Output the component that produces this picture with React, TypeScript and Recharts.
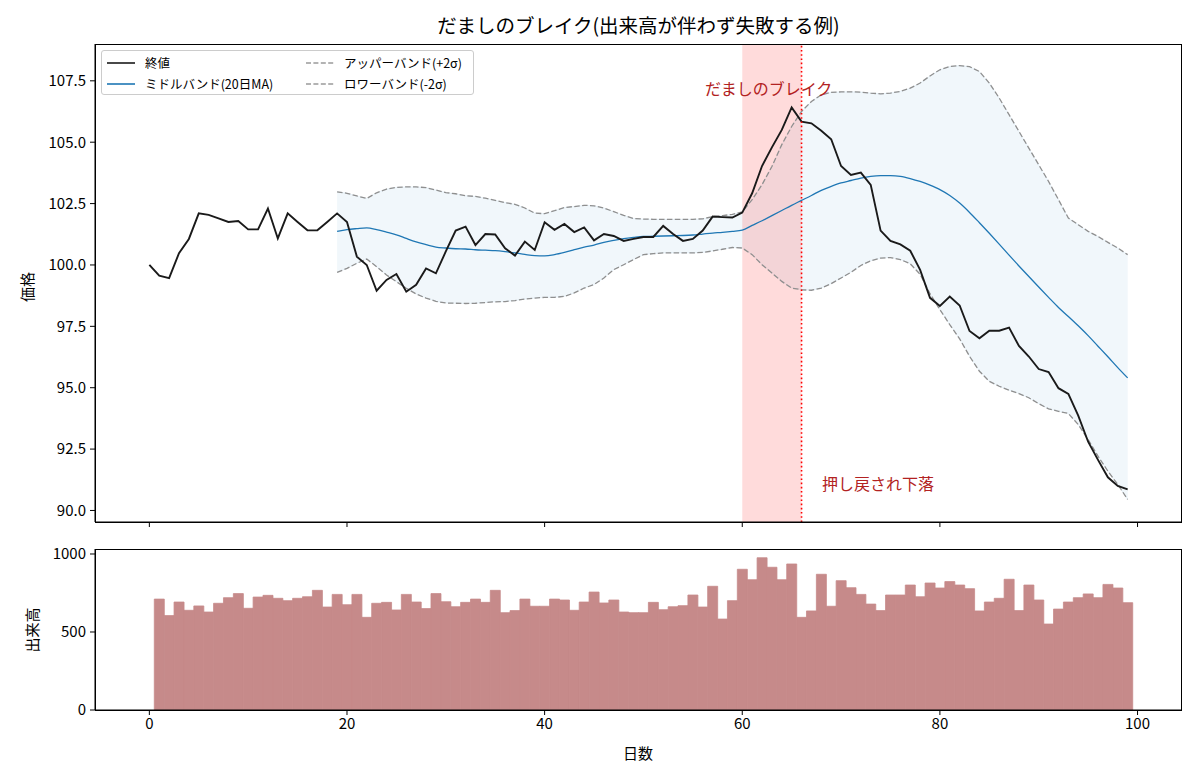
import React from "react";
import {
  ComposedChart,
  Line,
  Area,
  Bar,
  XAxis,
  YAxis,
  ReferenceArea,
  ReferenceLine,
} from "recharts";

// 終値 (日 0〜99)
const closePrices = [
  100.0, 99.56, 99.46, 100.48, 101.06, 102.1, 102.04, 101.9, 101.75, 101.79,
  101.45, 101.45, 102.3, 101.08, 102.1, 101.75, 101.41, 101.41, 101.75, 102.1,
  101.75, 100.34, 100.0, 98.95, 99.39, 99.63, 98.91, 99.19, 99.86, 99.66,
  100.55, 101.4, 101.56, 100.81, 101.26, 101.24, 100.68, 100.38, 100.95, 100.61,
  101.74, 101.43, 101.67, 101.34, 101.53, 101.0, 101.26, 101.18, 100.98, 101.06,
  101.14, 101.14, 101.59, 101.26, 100.98, 101.06, 101.4, 101.97, 101.95, 101.93,
  102.13, 102.92, 104.03, 104.79, 105.5, 106.42, 105.84, 105.77, 105.47, 105.12,
  104.03, 103.67, 103.76, 103.26, 101.4, 100.98, 100.84, 100.58, 99.8, 98.66,
  98.33, 98.71, 98.35, 97.31, 97.01, 97.32, 97.32, 97.45, 96.7, 96.27,
  95.76, 95.64, 94.98, 94.75, 93.86, 92.8, 92.06, 91.35, 91.0, 90.86,
];

// バンドは日 19 から
const BAND_START = 19;

const middleBand = [
  101.37, 101.44, 101.48, 101.51, 101.44, 101.34, 101.23, 101.08, 100.94, 100.83,
  100.73, 100.69, 100.66, 100.65, 100.62, 100.6, 100.58, 100.54, 100.49, 100.43,
  100.38, 100.37, 100.42, 100.51, 100.62, 100.73, 100.81, 100.92, 101.0, 101.07,
  101.12, 101.16, 101.17, 101.18, 101.19, 101.2, 101.22, 101.26, 101.3, 101.33,
  101.37, 101.42, 101.61, 101.8, 102.01, 102.22, 102.43, 102.63, 102.83, 103.04,
  103.2, 103.34, 103.44, 103.54, 103.61, 103.64, 103.64, 103.61, 103.52, 103.4,
  103.25, 103.07, 102.83, 102.52, 102.14, 101.72, 101.29, 100.85, 100.4, 99.96,
  99.53, 99.1, 98.68, 98.27, 97.9, 97.52, 97.12, 96.69, 96.26, 95.82,
  95.4,
];

const upperBand = [
  102.98, 102.92, 102.81, 102.71, 102.94, 103.09, 103.16, 103.18, 103.18, 103.15,
  103.05, 102.95, 102.9, 102.82, 102.79, 102.72, 102.63, 102.54, 102.47, 102.32,
  102.11, 102.09, 102.21, 102.34, 102.38, 102.43, 102.41, 102.32, 102.17, 102.02,
  101.89, 101.87, 101.86, 101.86, 101.86, 101.86, 101.86, 101.88, 101.97, 102.01,
  102.06, 102.16, 102.66, 103.27, 104.01, 104.9, 105.64, 106.25, 106.66, 106.93,
  107.03, 107.05, 107.05, 107.04, 107.0, 106.97, 107.0, 107.07, 107.2, 107.41,
  107.7, 107.95, 108.08, 108.12, 108.08, 107.88, 107.41, 106.8, 106.12, 105.44,
  104.76, 104.08, 103.4, 102.66, 101.91, 101.64, 101.37, 101.16, 100.92, 100.69,
  100.42,
];

const lowerBand = [
  99.7, 99.86, 100.07, 100.24, 99.93, 99.59, 99.32, 99.05, 98.82, 98.65,
  98.52, 98.45, 98.44, 98.43, 98.44, 98.47, 98.5, 98.51, 98.55, 98.61,
  98.65, 98.68, 98.68, 98.72, 98.86, 99.06, 99.2, 99.47, 99.81, 100.01,
  100.22, 100.42, 100.46, 100.49, 100.49, 100.49, 100.49, 100.51, 100.57, 100.64,
  100.71, 100.69, 100.42, 100.01, 99.67, 99.33, 99.06, 98.99, 98.97, 99.06,
  99.24, 99.47, 99.7, 99.98, 100.17, 100.28, 100.3, 100.22, 100.05, 99.62,
  98.83, 98.18, 97.57, 96.99, 96.28, 95.67, 95.26, 95.06, 94.9, 94.76,
  94.59, 94.35, 94.14, 94.04, 93.95, 93.5, 92.89, 92.21, 91.6, 91.06,
  90.45,
];

// 出来高は日 1 から
const VOLUME_START = 1;
const volumes = [
  711, 605, 692, 639, 667, 628, 684, 720, 746, 652,
  724, 735, 716, 701, 716, 726, 767, 660, 741, 675,
  741, 594, 684, 690, 641, 741, 692, 650, 746, 694,
  662, 690, 711, 690, 767, 624, 637, 711, 665, 665,
  711, 705, 639, 692, 756, 686, 705, 628, 624, 624,
  690, 643, 662, 669, 737, 660, 793, 583, 701, 902,
  835, 976, 915, 835, 936, 594, 635, 870, 665, 829,
  784, 741, 679, 637, 737, 737, 801, 726, 814, 782,
  823, 801, 778, 635, 692, 716, 838, 637, 801, 705,
  551, 647, 692, 720, 744, 720, 805, 782, 688,
];

const xTicks = [0, 20, 40, 60, 80, 100];
const priceTicks = [90, 92.5, 95, 97.5, 100, 102.5, 105, 107.5];
const volumeTicks = [0, 500, 1000];

// だましの区間
const fakeStart = 60;
const fakeEnd = 66;

const priceRows = closePrices.map((c, i) => {
  const j = i - BAND_START;
  const has = j >= 0;
  return {
    day: i,
    close: c,
    ma: has ? middleBand[j] : null,
    upper: has ? upperBand[j] : null,
    lower: has ? lowerBand[j] : null,
    band: has ? [lowerBand[j], upperBand[j]] : null,
  };
});

const volumeRows = volumes.map((v, k) => ({ day: k + VOLUME_START, vol: v }));

const FONT = "'Noto Sans CJK JP', 'Noto Sans', sans-serif";
const tickStyle = { fontSize: 15, fill: "#000" };
const axisStroke = { stroke: "#000" };
const VOL_COLOR = "#c68a8a";

const Frame = ({ left, top, width, height }: any) => (
  <div
    style={{
      position: "absolute",
      left,
      top,
      width,
      height,
      border: "1px solid #000",
      boxSizing: "border-box",
      pointerEvents: "none",
    }}
  />
);

const LegendSwatch = ({ color, dashed }: { color: string; dashed?: boolean }) => (
  <svg width={28} height={10} style={{ display: "block" }}>
    <line
      x1={0}
      y1={5}
      x2={28}
      y2={5}
      stroke={color}
      strokeWidth={dashed ? 1.3 : 1.6}
      strokeDasharray={dashed ? "5 2.4" : undefined}
    />
  </svg>
);

const legendItems = [
  { label: "終値", color: "#1a1a1a", dashed: false, left: 107, top: 55 },
  { label: "ミドルバンド(20日MA)", color: "#1f77b4", dashed: false, left: 107, top: 76 },
  { label: "アッパーバンド(+2σ)", color: "#9a9a9a", dashed: true, left: 306, top: 55 },
  { label: "ロワーバンド(-2σ)", color: "#9a9a9a", dashed: true, left: 306, top: 76 },
];

export default function App() {
  return (
    <div
      style={{
        position: "absolute",
        left: 0,
        top: 0,
        width: 1200,
        height: 780,
        background: "#fff",
        fontFamily: FONT,
        color: "#000",
      }}
    >
      {/* タイトル */}
      <div
        style={{
          position: "absolute",
          left: 95,
          width: 1087,
          top: 11,
          textAlign: "center",
          fontSize: 19.5,
          lineHeight: "28px",
        }}
      >
        だましのブレイク(出来高が伴わず失敗する例)
      </div>

      {/* 価格チャート */}
      <div style={{ position: "absolute", left: 0, top: 0 }}>
        <ComposedChart
          width={1200}
          height={540}
          data={priceRows}
          margin={{ top: 44, right: 18, bottom: 0, left: 0 }}
        >
          <XAxis
            dataKey="day"
            type="number"
            domain={[-5.5, 104.5]}
            ticks={xTicks}
            allowDataOverflow
            height={18}
            tickSize={5}
            tickFormatter={() => ""}
            axisLine={axisStroke}
            tickLine={axisStroke}
          />
          <YAxis
            type="number"
            domain={[89.53, 109.0]}
            ticks={priceTicks}
            allowDataOverflow
            width={95}
            tickSize={5}
            tickMargin={4}
            tick={tickStyle}
            tickFormatter={(v: number) => v.toFixed(1)}
            axisLine={axisStroke}
            tickLine={axisStroke}
          />
          <Area
            dataKey="band"
            stroke="#2a85c0"
            strokeOpacity={0.08}
            fill="#2a85c0"
            fillOpacity={0.065}
            isAnimationActive={false}
            connectNulls={false}
          />
          <ReferenceArea
            x1={fakeStart}
            x2={fakeEnd}
            fill="#ff0000"
            fillOpacity={0.14}
            stroke="none"
          />
          <Line
            dataKey="upper"
            stroke="#8f8f8f"
            strokeWidth={1.3}
            strokeDasharray="5.5 2.4"
            dot={false}
            isAnimationActive={false}
          />
          <Line
            dataKey="lower"
            stroke="#8f8f8f"
            strokeWidth={1.3}
            strokeDasharray="5.5 2.4"
            dot={false}
            isAnimationActive={false}
          />
          <Line
            dataKey="ma"
            type="monotone"
            stroke="#1f77b4"
            strokeWidth={1.3}
            dot={false}
            isAnimationActive={false}
          />
          <Line
            dataKey="close"
            stroke="#1a1a1a"
            strokeWidth={1.9}
            dot={false}
            isAnimationActive={false}
          />
          <ReferenceLine
            x={fakeEnd}
            stroke="#ff0000"
            strokeWidth={1.6}
            strokeDasharray="1.6 2.6"
          />
        </ComposedChart>
      </div>
      <Frame left={95} top={44} width={1087} height={479} />

      {/* 注釈 */}
      <div
        style={{
          position: "absolute",
          left: 705,
          top: 76,
          fontSize: 16,
          lineHeight: "24px",
          color: "#b22222",
          whiteSpace: "nowrap",
        }}
      >
        だましのブレイク
      </div>
      <div
        style={{
          position: "absolute",
          left: 822,
          top: 471,
          fontSize: 16,
          lineHeight: "24px",
          color: "#b22222",
          whiteSpace: "nowrap",
        }}
      >
        押し戻され下落
      </div>

      {/* 凡例 */}
      <div
        style={{
          position: "absolute",
          left: 101,
          top: 50,
          width: 373,
          height: 45,
          border: "1px solid #cccccc",
          borderRadius: 3,
          background: "rgba(255,255,255,0.8)",
          boxSizing: "border-box",
        }}
      />
      {legendItems.map((it) => (
        <div
          key={it.label}
          style={{
            position: "absolute",
            left: it.left,
            top: it.top,
            display: "flex",
            alignItems: "center",
            gap: 10,
            fontSize: 12.5,
            lineHeight: "16px",
            whiteSpace: "nowrap",
          }}
        >
          <LegendSwatch color={it.color} dashed={it.dashed} />
          <span>{it.label}</span>
        </div>
      ))}

      {/* 価格ラベル */}
      <div
        style={{
          position: "absolute",
          left: 26,
          top: 287,
          transform: "translate(-50%, -50%) rotate(-90deg)",
          fontSize: 15,
          whiteSpace: "nowrap",
        }}
      >
        価格
      </div>

      {/* 出来高チャート */}
      <div style={{ position: "absolute", left: 0, top: 540 }}>
        <ComposedChart
          width={1200}
          height={240}
          data={volumeRows}
          margin={{ top: 9, right: 18, bottom: 40, left: 0 }}
          barCategoryGap={0}
          barGap={0}
        >
          <XAxis
            dataKey="day"
            type="number"
            domain={[-5.5, 104.5]}
            ticks={xTicks}
            allowDataOverflow
            height={30}
            tickSize={5}
            tickMargin={3}
            tick={tickStyle}
            axisLine={axisStroke}
            tickLine={axisStroke}
          />
          <YAxis
            type="number"
            domain={[0, 1032]}
            ticks={volumeTicks}
            allowDataOverflow
            width={95}
            tickSize={5}
            tickMargin={4}
            tick={tickStyle}
            axisLine={axisStroke}
            tickLine={axisStroke}
          />
          <Bar
            dataKey="vol"
            fill={VOL_COLOR}
            stroke={VOL_COLOR}
            strokeWidth={0.8}
            isAnimationActive={false}
          />
        </ComposedChart>
      </div>
      <Frame left={95} top={549} width={1087} height={162} />

      <div
        style={{
          position: "absolute",
          left: 31,
          top: 630,
          transform: "translate(-50%, -50%) rotate(-90deg)",
          fontSize: 15,
          whiteSpace: "nowrap",
        }}
      >
        出来高
      </div>
      <div
        style={{
          position: "absolute",
          left: 638,
          top: 752,
          transform: "translate(-50%, -50%)",
          fontSize: 15,
          whiteSpace: "nowrap",
        }}
      >
        日数
      </div>
    </div>
  );
}
